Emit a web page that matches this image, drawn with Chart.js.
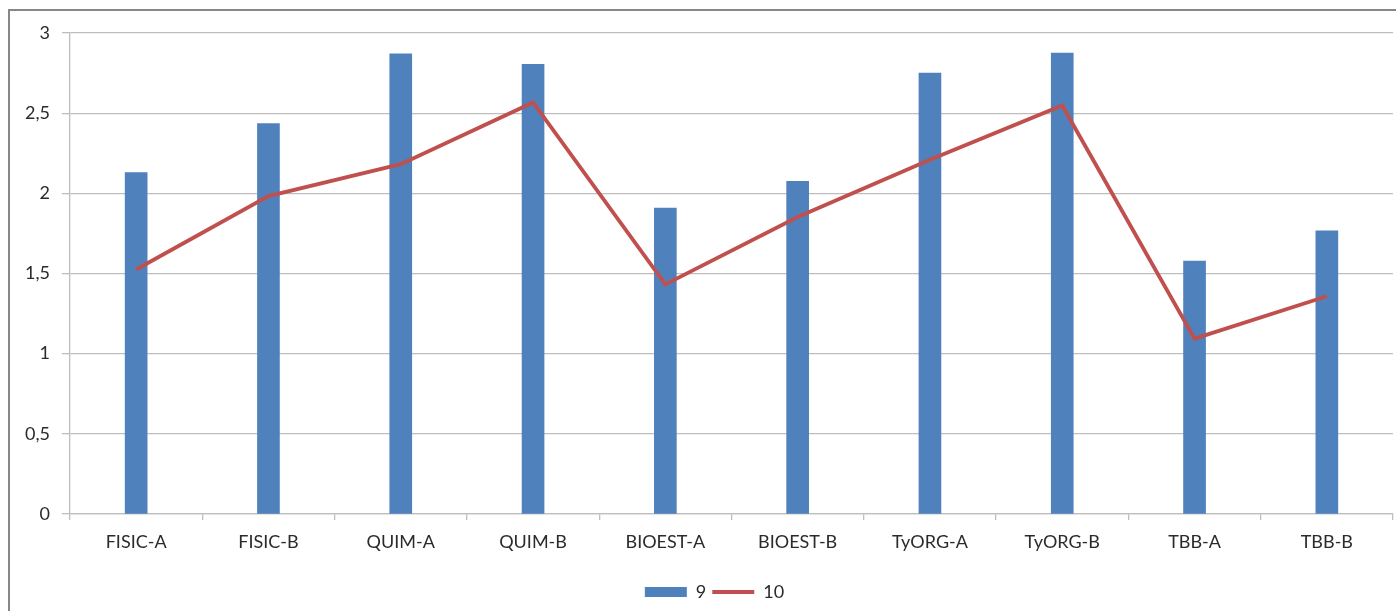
<!DOCTYPE html>
<html>
<head>
<meta charset="utf-8">
<script src="https://cdn.jsdelivr.net/npm/chart.js@4.4.1/dist/chart.umd.min.js"></script>
<style>
  html, body { margin: 0; padding: 0; background: #fff; overflow: hidden; }
  #wrap { position: absolute; left: 0; top: 0; width: 1396px; height: 611px; }
  #frame { position: absolute; left: 8px; top: 9px; width: 1420px; height: 640px;
           border: 2px solid #878787; pointer-events: none; box-sizing: border-box; }
</style>
</head>
<body>
<div id="wrap"><canvas id="c" width="1396" height="611"></canvas></div>
<div id="frame"></div>
<script>
const categories = ['FISIC-A', 'FISIC-B', 'QUIM-A', 'QUIM-B', 'BIOEST-A', 'BIOEST-B', 'TyORG-A', 'TyORG-B', 'TBB-A', 'TBB-B'];
const series9 = [2.13, 2.435, 2.87, 2.805, 1.908, 2.075, 2.75, 2.875, 1.577, 1.766];
const series10 = [1.525, 1.983, 2.182, 2.567, 1.432, 1.852, 2.21, 2.548, 1.094, 1.358];
const yTickValues = [0, 0.5, 1, 1.5, 2, 2.5, 3];
const yTickLabels = ['0', '0,5', '1', '1,5', '2', '2,5', '3'];

const FONT = 'Lato, "Open Sans", sans-serif';
const GRID = '#BEBEBE';
const TEXT = '#2b2b2b';

const legendShift = {
  id: 'legendShift',
  afterLayout(chart) {
    const l = chart.legend;
    if (l) { l.left += 18; l.right += 18; }
  }
};

new Chart(document.getElementById('c'), {
  type: 'bar',
  data: {
    labels: categories,
    datasets: [
      {
        type: 'line',
        label: '10',
        data: series10,
        borderColor: '#C0504D',
        backgroundColor: '#C0504D',
        borderWidth: 3.8,
        pointRadius: 0,
        pointHoverRadius: 0,
        pointStyle: 'line',
        tension: 0,
        fill: false
      },
      {
        type: 'bar',
        label: '9',
        data: series9,
        backgroundColor: '#4F81BD',
        borderWidth: 0,
        barThickness: 22,
        pointStyle: 'rect'
      }
    ]
  },
  plugins: [legendShift],
  options: {
    responsive: false,
    animation: false,
    layout: { padding: { left: 0, right: 3, top: 33, bottom: 0 } },
    plugins: {
      tooltip: { enabled: false },
      legend: {
        position: 'bottom',
        labels: {
          usePointStyle: true,
          pointStyleWidth: 42,
          boxHeight: 10,
          padding: 6,
          color: TEXT,
          font: { family: FONT, size: 18 },
          sort: (a, b) => b.datasetIndex - a.datasetIndex
        }
      }
    },
    scales: {
      x: {
        offset: true,
        grid: { display: true, drawOnChartArea: false, drawTicks: true, tickLength: 6, color: GRID, lineWidth: 1.3, offset: true },
        border: { display: true, color: GRID, width: 1.3 },
        ticks: { color: TEXT, font: { family: FONT, size: 18 }, padding: 11, maxRotation: 0, autoSkip: false },
        afterFit: (s) => { s.height = 63; }
      },
      y: {
        min: 0,
        max: 3,
        afterBuildTicks: (s) => { s.ticks = yTickValues.map(v => ({ value: v })); },
        grid: { color: GRID, lineWidth: 1.3, drawTicks: true, tickLength: 8 },
        border: { display: true, color: GRID, width: 1.3 },
        ticks: {
          color: TEXT,
          font: { family: FONT, size: 18 },
          padding: 12,
          callback: (v) => { const i = yTickValues.indexOf(v); return i >= 0 ? yTickLabels[i] : ''; }
        },
        afterFit: (s) => { s.width = 70; }
      }
    }
  }
});
</script>
</body>
</html>
